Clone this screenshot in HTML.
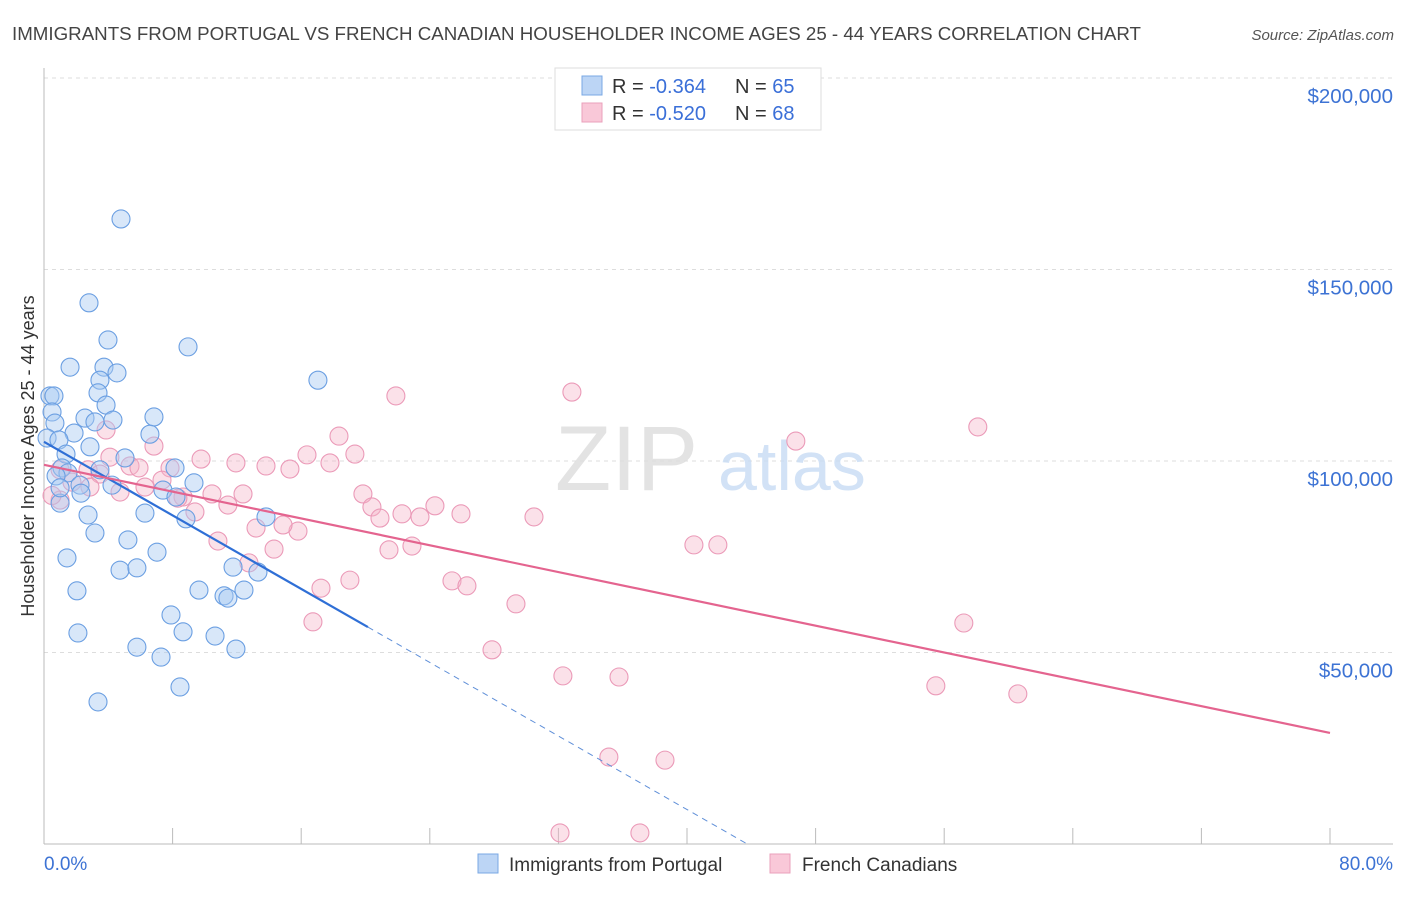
<!DOCTYPE html>
<html><head><meta charset="utf-8"><style>
body{margin:0;background:#fff;font-family:"Liberation Sans",sans-serif;}
svg text{font-family:"Liberation Sans",sans-serif;}
</style></head><body>
<svg id="chart" width="1406" height="892" xmlns="http://www.w3.org/2000/svg">
<text x="12" y="40" font-size="18" fill="#444" textLength="1129" lengthAdjust="spacingAndGlyphs">IMMIGRANTS FROM PORTUGAL VS FRENCH CANADIAN HOUSEHOLDER INCOME AGES 25 - 44 YEARS CORRELATION CHART</text>
<text x="1394" y="40" font-size="15" fill="#555" font-style="italic" text-anchor="end">Source: ZipAtlas.com</text>
<g id="grid"></g>
<text x="555" y="490" font-size="92" fill="#ddd" font-family="Liberation Serif" opacity="0.8">ZIP</text>
<text x="718" y="490" font-size="70" fill="#c8dcf4" opacity="0.8">atlas</text>
<g id="marks"></g>
<text transform="translate(34,456) rotate(-90)" font-size="18" fill="#333" text-anchor="middle">Householder Income Ages 25 - 44 years</text>
<text x="44" y="870" font-size="19" fill="#3d73d4">0.0%</text>
<text x="1393" y="870" font-size="19" fill="#3d73d4" text-anchor="end">80.0%</text>
<g>
<rect x="555" y="68" width="266" height="62" fill="#fff" stroke="#ddd"/>
<rect x="582" y="76" width="20" height="19" fill="#bcd5f5" stroke="#7aa8e4"/>
<rect x="582" y="103" width="20" height="19" fill="#f9c8d8" stroke="#eaa0bb"/>
<text x="612" y="93" font-size="20" fill="#333">R = <tspan fill="#3a6fd8">-0.364</tspan><tspan x="735">N = </tspan><tspan fill="#3a6fd8">65</tspan></text>
<text x="612" y="120" font-size="20" fill="#333">R = <tspan fill="#3a6fd8">-0.520</tspan><tspan x="735">N = </tspan><tspan fill="#3a6fd8">68</tspan></text>
</g>
<g>
<rect x="478" y="854" width="20" height="19" fill="#bcd5f5" stroke="#7aa8e4"/>
<text x="509" y="871" font-size="19" fill="#333">Immigrants from Portugal</text>
<rect x="770" y="854" width="20" height="19" fill="#f9c8d8" stroke="#eaa0bb"/>
<text x="802" y="871" font-size="19" fill="#333">French Canadians</text>
</g>
</svg>
<script>
const yTicks=[50000,100000,150000,200000];
const yTickLabels=["$50,000","$100,000","$150,000","$200,000"];
const xTicks=[0,8,16,24,32,40,48,56,64,72,80];
const blueX=[4.79,2.80,3.98,8.96,17.04,1.62,3.73,4.54,3.48,0.37,0.62,3.36,3.86,0.50,6.84,2.55,4.29,0.68,3.17,1.87,0.19,6.59,0.93,2.86,1.37,5.04,1.12,3.48,1.49,8.15,0.75,2.24,4.23,9.33,7.40,2.30,1.00,8.21,2.74,6.28,8.83,13.81,3.17,5.22,7.03,1.43,4.73,5.78,13.31,11.76,2.05,9.64,11.20,11.44,12.44,7.90,2.11,8.65,10.64,5.78,11.94,7.28,8.46,3.36,1.00];
const blueY=[163.2,141.3,131.6,129.8,121.1,124.5,124.5,123.0,121.1,117.0,117.0,117.8,114.6,112.8,111.5,111.2,110.7,109.9,110.2,107.3,106.0,107.0,105.5,103.7,101.8,100.8,98.2,97.7,96.9,98.2,96.1,93.7,93.7,94.3,92.4,91.6,89.0,90.6,85.9,86.4,84.9,85.4,81.2,79.4,76.2,74.7,71.5,72.1,71.0,72.3,66.1,66.3,64.8,64.2,66.3,59.8,55.1,55.4,54.3,51.4,50.9,48.8,41.0,37.1,93.0];
const pinkX=[32.84,21.89,58.09,46.77,6.84,3.86,18.35,19.34,16.36,9.77,11.94,13.81,15.30,17.79,5.35,5.91,7.84,2.74,3.48,1.00,1.74,6.28,7.34,8.65,10.45,12.38,4.73,19.84,20.40,24.32,25.94,22.27,23.39,20.90,30.48,11.44,9.39,15.80,14.87,13.19,10.82,14.31,21.46,22.89,40.43,41.92,12.75,19.03,17.23,25.38,26.31,29.36,16.73,27.87,57.22,32.28,35.77,55.48,60.58,35.14,38.63,32.10,37.07,1.00,8.33,4.10,2.86,0.5];
const pinkY=[118.0,117.0,108.9,105.2,103.9,108.1,106.5,101.8,101.6,100.5,99.5,98.7,97.9,99.5,98.7,98.2,98.2,97.7,96.6,97.7,94.5,93.2,95.0,90.6,91.4,91.4,91.9,91.4,88.0,88.3,86.2,86.2,85.4,85.1,85.4,88.5,86.7,81.7,83.3,82.5,79.1,77.0,76.8,77.8,78.1,78.1,73.4,68.9,66.8,68.7,67.4,62.7,58.0,50.7,57.7,43.9,43.6,41.3,39.2,22.7,21.9,2.9,2.9,89.8,90.3,101.0,93.2,91.0];
const blueTrend=[105.0,-2.40];
const pinkTrend=[99.0,-0.875];
const NS="http://www.w3.org/2000/svg";
const xs=v=>44+v/80*1286;
const ys=k=>844-k*3.83;
function mk(tag,attrs,parent){const e=document.createElementNS(NS,tag);for(const k in attrs)e.setAttribute(k,attrs[k]);parent.appendChild(e);return e;}
const grid=document.getElementById('grid');const marks=document.getElementById('marks');
yTicks.forEach((t,i)=>{const y=ys(t/1000);
const l=mk('line',{x1:44,x2:1393,y1:y,y2:y,stroke:'#ddd','stroke-dasharray':'4,4'},grid);


const tx=mk('text',{x:1393,y:y+25,'font-size':20.5,fill:'#3d73d4','text-anchor':'end'},grid);tx.textContent=yTickLabels[i];

});
const ax=mk('line',{x1:44,x2:1393,y1:844,y2:844,stroke:'#bbb'},grid);


const ay=mk('line',{x1:44,x2:44,y1:68,y2:844,stroke:'#bbb'},grid);


xTicks.forEach(t=>{const x=xs(t);const l=mk('line',{x1:x,x2:x,y1:828,y2:844,stroke:'#bbb'},grid);

});
pinkX.forEach((v,i)=>{const c=mk('circle',{cx:xs(v),cy:ys(pinkY[i]),r:9,fill:'#f5b3c8','fill-opacity':0.4,stroke:'#eb9ab8','stroke-width':1.1},marks);

});
blueX.forEach((v,i)=>{const c=mk('circle',{cx:xs(v),cy:ys(blueY[i]),r:9,fill:'#a9c9f1','fill-opacity':0.45,stroke:'#6b9fe2','stroke-width':1.1},marks);

});
const bl=mk('line',{x1:xs(0),y1:ys(blueTrend[0]),x2:xs(20.15),y2:ys(blueTrend[0]+blueTrend[1]*20.15),stroke:'#2f6fd6','stroke-width':2.2},marks);


const xEnd=-blueTrend[0]/blueTrend[1];
const bd=mk('line',{x1:xs(20.15),y1:ys(blueTrend[0]+blueTrend[1]*20.15),x2:xs(xEnd),y2:ys(0),stroke:'#5f8fd8','stroke-width':1,'stroke-dasharray':'6,5'},marks);


const pl=mk('line',{x1:xs(0),y1:ys(pinkTrend[0]),x2:xs(80),y2:ys(pinkTrend[0]+pinkTrend[1]*80),stroke:'#e4648f','stroke-width':2.2},marks);


</script>
</body></html>
